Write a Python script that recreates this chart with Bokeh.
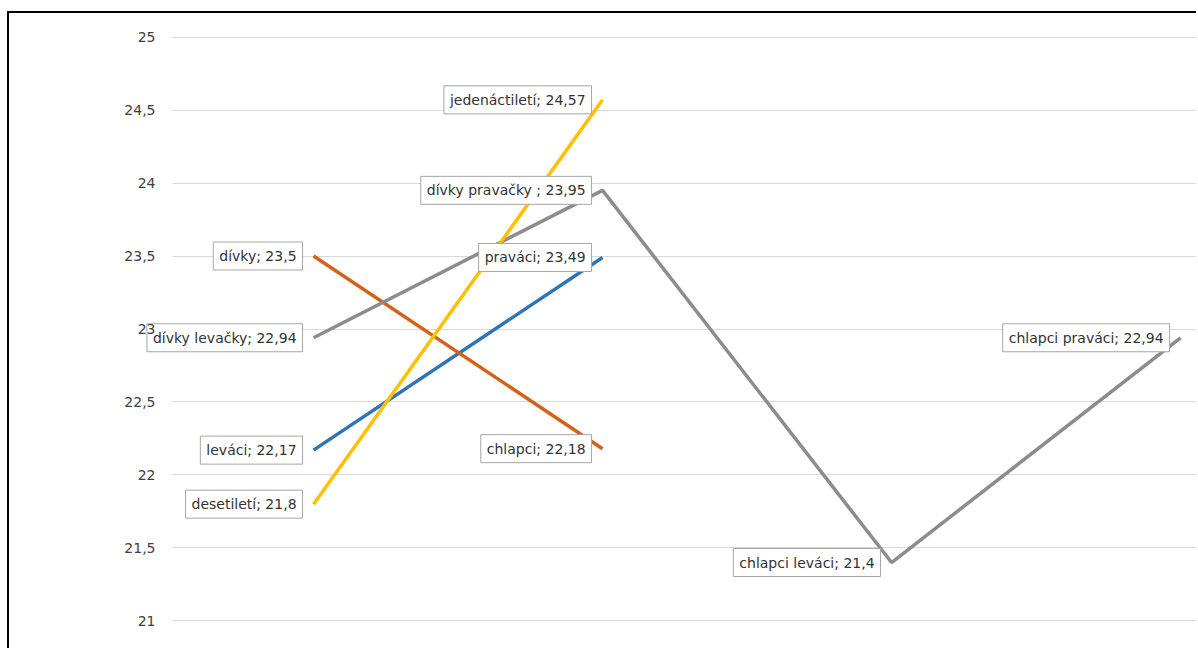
import math
from bokeh.plotting import figure
from bokeh.models import Range1d, FixedTicker, CustomJSTickFormatter, Label
from bokeh.embed import file_html
from bokeh.resources import INLINE

# ---- data ----
y_ticks = [21, 21.5, 22, 22.5, 23, 23.5, 24, 24.5, 25]

blue_x = [0, 1]
blue_y = [22.17, 23.49]
blue_names = ["leváci", "praváci"]

orange_x = [0, 1]
orange_y = [23.5, 22.18]
orange_names = ["dívky", "chlapci"]

gray_x = [0, 1, 2, 3]
gray_y = [22.94, 23.95, 21.4, 22.94]
gray_names = ["dívky levačky", "dívky pravačky ", "chlapci leváci", "chlapci praváci"]

yellow_x = [0, 1]
yellow_y = [21.8, 24.57]
yellow_names = ["desetiletí", "jedenáctiletí"]

series = [
    (blue_x, blue_y, blue_names, "#2E75B6"),
    (orange_x, orange_y, orange_names, "#D4601A"),
    (gray_x, gray_y, gray_names, "#8C8C8C"),
    (yellow_x, yellow_y, yellow_names, "#FFC000"),
]

FONT = "DejaVu Sans"
X_START, X_END = -0.706, 3.062
PLOT_LEFT = -0.488

p = figure(
    width=1189, height=637,
    x_range=Range1d(X_START, X_END), y_range=Range1d(20.9, 25.1),
    output_backend="svg", toolbar_location=None,
    min_border_left=100, min_border_right=0, min_border_top=9, min_border_bottom=15,
)
p.styles = {"margin-left": "7px", "margin-top": "11px",
            "border-left": "2px solid black", "border-top": "2px solid black"}
p.outline_line_color = None
p.background_fill_color = "white"
p.border_fill_color = "white"

p.xaxis.visible = False
p.xgrid.visible = False

p.yaxis.fixed_location = PLOT_LEFT
p.yaxis.level = "overlay"
p.yaxis.ticker = FixedTicker(ticks=y_ticks)
p.yaxis.formatter = CustomJSTickFormatter(code="return tick.toString().replace('.', ',');")
p.yaxis.axis_line_color = None
p.yaxis.major_tick_line_color = None
p.yaxis.major_tick_out = 0
p.yaxis.major_tick_in = 0
p.yaxis.minor_tick_line_color = None
p.yaxis.major_label_text_color = "#404040"
p.yaxis.major_label_text_font = FONT
p.yaxis.major_label_text_font_size = "14px"
p.yaxis.major_label_standoff = 17
p.ygrid.grid_line_color = "#D9D9D9"
p.ygrid.grid_line_width = 1
p.ygrid.cross_bounds = (PLOT_LEFT, X_END)

for xs, ys, names, color in series:
    p.line(xs, ys, line_color=color, line_width=3.5)

for xs, ys, names, color in series:
    for xv, yv, nm in zip(xs, ys, names):
        txt = f"{nm}; {str(yv).replace('.', ',')}"
        p.add_layout(Label(
            x=xv, y=yv, text=txt, x_offset=-11,
            text_align="right", text_baseline="middle",
            text_font=FONT, text_font_size="14px", text_color="#333333",
            background_fill_color="white", border_line_color="#A6A6A6",
            border_line_width=1, padding=6,
        ))

open("out.html", "w").write(file_html(p, INLINE))
